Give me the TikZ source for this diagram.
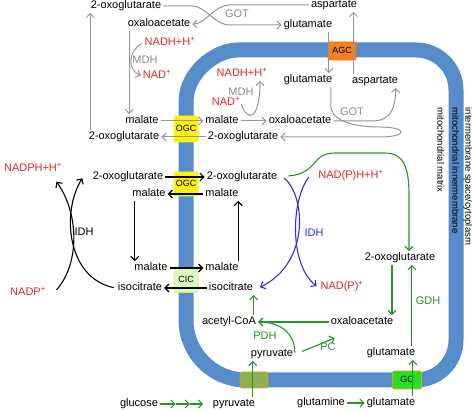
\documentclass[tikz,border=0pt]{standalone}
\usepackage{fontspec}
\setmainfont{Liberation Sans}
\usetikzlibrary{arrows.meta,calc}
\definecolor{memb}{RGB}{86,140,202}
\definecolor{gline}{RGB}{150,150,150}
\definecolor{gtxt}{RGB}{140,140,140}
\definecolor{rtxt}{RGB}{235,35,35}
\definecolor{bline}{RGB}{40,50,220}
\definecolor{grline}{RGB}{35,150,35}
\definecolor{agcfill}{RGB}{245,128,30}
\definecolor{agcdraw}{RGB}{230,115,20}
\definecolor{ogcfill}{RGB}{255,240,20}
\definecolor{cicfill}{RGB}{215,250,190}
\definecolor{cicdraw}{RGB}{235,235,90}
\definecolor{mpcfill}{RGB}{140,178,80}
\definecolor{mpcdraw}{RGB}{225,150,50}
\definecolor{gcfill}{RGB}{40,225,30}
\definecolor{gcdraw}{RGB}{225,160,40}
\newcommand\plussup{\textsuperscript{+}}
\begin{document}
\begin{tikzpicture}[x=1pt,y=-1pt,
  every node/.style={inner sep=0.5pt, text height=7.5pt, text depth=2pt, font=\fontsize{11}{13}\selectfont},
  rtx/.style={text=rtxt}, gtx/.style={text=gtxt}, btx/.style={text=bline}, grtx/.style={text=grline},
  tipb/.style={-{Straight Barb[length=4pt,width=8pt]}},
  garr/.style={draw=gline, line width=1pt, tipb, shorten >=1.5pt, shorten <=1.5pt},
  karr/.style={draw=black, line width=1.1pt, tipb, shorten >=1.5pt, shorten <=1.5pt},
  barr/.style={draw=bline, line width=1.1pt, tipb, shorten >=1.5pt, shorten <=1.5pt},
  grarr/.style={draw=grline, line width=1.1pt, tipb, shorten >=1.5pt, shorten <=1.5pt},
  tbox/.style={line width=0.8pt, rounded corners=2pt, inner sep=0pt, font=\fontsize{9}{10}\selectfont},
  vlab/.style={rotate=-90, anchor=west, font=\fontsize{9.5}{11}\selectfont}]
\useasboundingbox (0,0) rectangle (474,411);
% membrane
\draw[memb, line width=15pt] (186,102) .. controls (186,73.3) and (214.7,50) .. (238,50)
  -- (416,50) .. controls (438.1,50) and (456,67.9) .. (456,90)
  -- (456,340) .. controls (456,362.1) and (438.1,380) .. (416,380)
  -- (246,380) .. controls (212.9,380) and (186,353.1) .. (186,320) -- cycle;
% transporters
\node[tbox, fill=agcfill, draw=agcdraw, minimum width=28pt, minimum height=18pt] (agc) at (342,51) {AGC};
\node[tbox, fill=ogcfill, draw=ogcfill, minimum width=24pt, minimum height=26pt] (ogc1) at (186,129) {OGC};
\node[tbox, fill=ogcfill, draw=ogcfill, minimum width=24pt, minimum height=24pt] (ogc2) at (186,184) {OGC};
\node[tbox, fill=cicfill, draw=cicdraw, minimum width=24pt, minimum height=25pt] (cic) at (186,280) {CIC};
\node[tbox, fill=mpcfill, draw=mpcdraw, minimum width=28pt, minimum height=16pt] (mpc) at (254,380) {};
\node[tbox, fill=gcfill, draw=gcdraw, minimum width=29pt, minimum height=18pt] (gc) at (407,380) {GC};
% compartment labels
\node[vlab] (lims) at (468,107) {intermembrane space/cytoplasm};
\node[vlab] (limm) at (455,107) {mitochondrial innermembrane};
\node[vlab] (lmat) at (440,107) {mitochondrial matrix};
% top (cytoplasm)
\node (t2og) at (126,6) {2-oxoglutarate};
\node (toaa) at (159,24) {oxaloacetate};
\node (tasp) at (334,5) {aspartate};
\node (tglu) at (308,25) {glutamate};
\node[gtx] (tgot) at (237,15) {GOT};
\node[rtx] (tnadh) at (170,43) {NADH+H\plussup};
\node[gtx] (tmdh) at (145,61) {MDH};
\node[rtx] (tnad) at (157,76) {NAD\plussup};
\node (tmal) at (142,121) {malate};
\node (t2ogb) at (124,137) {2-oxoglutarate};
% top (matrix)
\node (imal) at (222,121) {malate};
\node (i2og) at (243,137) {2-oxoglutarate};
\node (ioaa) at (300,121) {oxaloacetate};
\node[rtx] (inadh) at (242,74) {NADH+H\plussup};
\node[gtx] (imdh) at (241,93) {MDH};
\node[rtx] (inad) at (226,103) {NAD\plussup};
\node (iglu) at (308,80) {glutamate};
\node (iasp) at (375,81) {aspartate};
\node[gtx] (igot) at (352,113) {GOT};
% middle
\node[rtx] (nadph) at (33,169) {NADPH+H\plussup};
\node (m2ogL) at (128,177) {2-oxoglutarate};
\node (m2ogR) at (242,177) {2-oxoglutarate};
\node (mmalL) at (149,194) {malate};
\node (mmalR) at (222,194) {malate};
\node (idhk) at (84,233) {IDH};
\node (mmalL2) at (151,268) {malate};
\node (mmalR2) at (222,268) {malate};
\node (misoL) at (140,288) {isocitrate};
\node (misoR) at (231,288) {isocitrate};
\node[rtx] (nadp) at (28,293) {NADP\plussup};
\node[rtx] (npH) at (351,176) {NAD(P)H+H\plussup};
\node[btx] (idhb) at (314,234) {IDH};
\node[rtx] (npp) at (342,287) {NAD(P)\plussup};
\node (m2og3) at (400,258) {2-oxoglutarate};
\node[grtx] (gdh) at (428,302) {GDH};
\node (moaa) at (362,322) {oxaloacetate};
\node (acoa) at (229,322) {acetyl-CoA};
\node[grtx] (pdh) at (265,337) {PDH};
\node (pyr) at (272,354) {pyruvate};
\node[grtx] (pc) at (328,348) {PC};
\node (mglu) at (391,353) {glutamate};
\node (glc) at (139,404) {glucose};
\node (pyrb) at (234,404) {pyruvate};
\node (gln) at (321,403) {glutamine};
\node (glub) at (391,403) {glutamate};
% grey connectors
\coordinate (g1) at ([xshift=2pt]t2ogb.north west);
\draw[garr] (g1) -- (g1 |- t2og.south);
\coordinate (g2) at ([xshift=2pt]toaa.south west);
\draw[garr] (g2) -- (g2 |- tmal.north);
\draw[garr] ([xshift=-1pt]tnadh.west) .. controls +(-15,8) and +(-15,-6) .. (tnad.west);
\draw[garr] (tmal.east) -- (imal.west);
\draw[garr] (i2og.west) -- (t2ogb.east);
\draw[garr] (t2og.east) -- (192,6) .. controls (206,6) and (214,25) .. (230,25) -- (tglu.west);
\draw[garr] (tasp.west) -- (230,5) .. controls (214,5) and (206,24) .. (toaa.east);
\coordinate (g3) at ([xshift=-4pt]tglu.south east);
\draw[garr] (g3) -- (g3 |- iglu.north);
\coordinate (g4) at ([xshift=2pt]iasp.north west);
\draw[garr] (g4) -- (g4 |- tasp.south);
\draw[garr] (imal.east) -- (ioaa.west);
\draw[garr] (inad.east) .. controls +(7,20) and +(0,40) .. ([xshift=-8pt]inadh.south east);
\draw[garr] (ioaa.east) -- (372,121) .. controls (390,121) and (395.5,110) .. ([xshift=-3pt]iasp.south east);
\coordinate (g5) at ([xshift=-2pt]iglu.south east);
\draw[garr] (g5) -- ++(0,20) .. controls +(0,16) and (355,127) .. (380,127) .. controls (408,127) and (408,137) .. (380,137) -- (i2og.east);
% black connectors
\draw[karr] (m2ogL.east) -- (m2ogR.west);
\draw[karr] (mmalR.west) -- (mmalL.east);
\coordinate (k1) at ([xshift=3pt]mmalL.south west);
\draw[karr] (k1) -- (k1 |- mmalL2.north);
\coordinate (k2) at ([xshift=-1pt]mmalR2.north east);
\draw[karr] (k2) -- (k2 |- mmalR.south);
\draw[karr] (mmalL2.east) -- (mmalR2.west);
\draw[karr] (misoR.west) -- (misoL.east);
\draw[karr] ($(nadp.east)+(9,-2)$) .. controls (79,265) and (80,215) .. ($(nadph.south east)+(-7,6)$);
\draw[karr] ([xshift=-2pt]misoL.west) .. controls (67,278) and (61,212) .. ([xshift=-9pt]m2ogL.west);
% blue connectors
\draw[barr] ([xshift=5pt]m2ogR.east) .. controls (305,195) and (311,262) .. ([xshift=5pt]misoR.east);
\draw[barr] ([xshift=-8pt]npH.west) .. controls (291,200) and (289,265) .. ([xshift=-2pt]npp.west);
% green connectors
\draw[grarr] ([xshift=9pt,yshift=1pt]m2ogR.east) .. controls (305,175) and (311,167) .. (318,159) .. controls (323,154) and (328,153) .. (338,153) -- (385,153) .. controls (404,153) and (409,168) .. (409,195) -- ([xshift=9pt]m2og3.north);
\coordinate (r1) at ([xshift=-8pt]m2og3.south);
\draw[grarr] (r1) -- (r1 |- moaa.north);
\coordinate (r2) at ([xshift=-4pt]mglu.north east);
\draw[grarr] (r2) -- (r2 |- m2og3.south);
\draw[grarr] (moaa.west) -- (acoa.east);
\coordinate (r3) at ([xshift=-3pt]acoa.north east);
\draw[grarr] (r3) -- (r3 |- misoR.south);
\draw[grarr] ([xshift=1pt]pyr.east) .. controls +(0,-22) and +(22,0) .. (acoa.east);
\draw[grarr] ($(pyr.east)+(7,-2)$) -- ($(moaa.south west)+(6,10)$);
\coordinate (r4) at ([xshift=-3pt]pyrb.north east);
\draw[grarr] (r4) -- (r4 |- pyr.south);
\coordinate (r5) at ([xshift=-3pt]glub.north east);
\draw[grarr] (r5) -- (r5 |- mglu.south);
\draw[grarr] (gln.east) -- (glub.west);
\coordinate (r8) at ([xshift=-9pt]pyrb.west);
\coordinate (r6) at ($(glc.east)!0.38!(r8)$);
\coordinate (r7) at ($(glc.east)!0.70!(r8)$);
\draw[grarr, shorten >=0pt] (glc.east) -- (r6);
\draw[grarr, shorten >=0pt, shorten <=0pt] (r6) -- (r7);
\draw[grarr, shorten >=0pt, shorten <=0pt] (r7) -- (r8);
\end{tikzpicture}
\end{document}
